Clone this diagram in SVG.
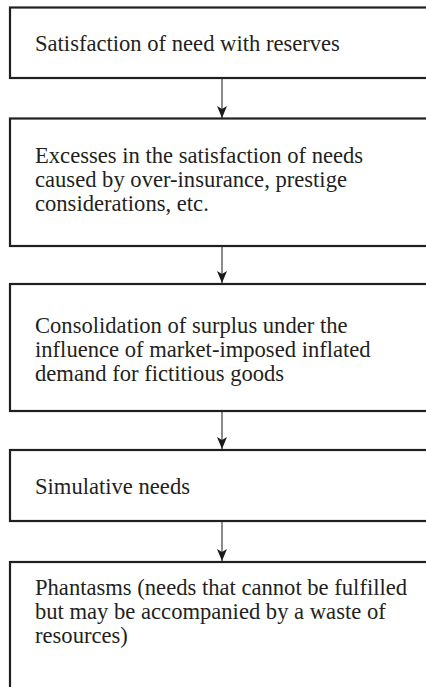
<svg xmlns="http://www.w3.org/2000/svg" width="426" height="687" viewBox="0 0 426 687">
  <style>
    .box { fill: #ffffff; stroke: #231f20; stroke-width: 2.2; }
    .label { font-family: "Liberation Serif", "Times New Roman", serif; font-size: 22.6px; fill: #231f20; }
    .link { stroke: #4d4d4d; stroke-width: 1.3; fill: none; marker-end: url(#arrow); }
  </style>
  <defs>
    <marker id="arrow" viewBox="0 0 12 12" refX="12" refY="6" markerWidth="12" markerHeight="12" markerUnits="userSpaceOnUse" orient="auto">
      <path d="M0,1 L12,6 L0,11 L3,6 Z" fill="#1a1a1a"/>
    </marker>
  </defs>
  <rect width="426" height="687" fill="#ffffff"/>

  <g id="connectors">
    <line class="link" x1="222" y1="79" x2="222" y2="118"/>
    <line class="link" x1="222" y1="246" x2="222" y2="283"/>
    <line class="link" x1="222" y1="412" x2="222" y2="449"/>
    <line class="link" x1="222" y1="522" x2="222" y2="561"/>
  </g>

  <g id="node-reserves">
    <rect class="box" x="10" y="7.5" width="430" height="70.5"/>
    <text class="label" x="35" y="51">Satisfaction of need with reserves</text>
  </g>

  <g id="node-excesses">
    <rect class="box" x="10" y="118.5" width="430" height="127.5"/>
    <text class="label" x="35" y="163">Excesses in the satisfaction of needs</text>
    <text class="label" x="35" y="187">caused by over-insurance, prestige</text>
    <text class="label" x="35" y="210.5">considerations, etc.</text>
  </g>

  <g id="node-surplus">
    <rect class="box" x="10" y="284" width="430" height="127"/>
    <text class="label" x="35" y="333">Consolidation of surplus under the</text>
    <text class="label" x="35" y="357">influence of market-imposed inflated</text>
    <text class="label" x="35" y="380.5">demand for fictitious goods</text>
  </g>

  <g id="node-simulative">
    <rect class="box" x="10" y="450" width="430" height="71"/>
    <text class="label" x="35" y="494">Simulative needs</text>
  </g>

  <g id="node-phantasms">
    <rect class="box" x="10" y="562" width="430" height="140"/>
    <text class="label" x="35" y="595">Phantasms (needs that cannot be fulfilled</text>
    <text class="label" x="35" y="619">but may be accompanied by a waste of</text>
    <text class="label" x="35" y="642.5">resources)</text>
  </g>
</svg>
